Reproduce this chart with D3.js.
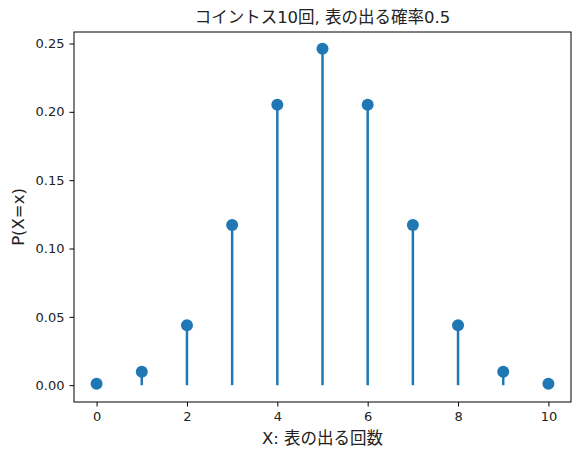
<!DOCTYPE html>
<html>
<head>
<meta charset="utf-8">
<script src="https://cdn.jsdelivr.net/npm/d3@7"></script>
<style>
  body { margin: 0; background: #fff; }
  text { font-family: "DejaVu Sans", "Noto Sans CJK JP", sans-serif; }
</style>
</head>
<body>
<script>
// P(X=k) for 10 coin tosses, p = 0.5
const ks = [0, 1, 2, 3, 4, 5, 6, 7, 8, 9, 10];
const probs = [0.00098, 0.0098, 0.0439, 0.1172, 0.2051, 0.2461, 0.2051, 0.1172, 0.0439, 0.0098, 0.00098];
const xTicks = [0, 2, 4, 6, 8, 10];
const yTicks = [0, 0.05, 0.10, 0.15, 0.20, 0.25];

const W = 579, H = 459;
const margin = { top: 32, left: 74, bottom: 57, right: 8 };
const width = W - margin.left - margin.right,
      height = H - margin.top - margin.bottom;
const col = "#1f77b4";

const svg = d3.select("body").append("svg")
    .attr("width", W).attr("height", H);

const x = d3.scaleLinear().domain([-0.5, 10.5]).range([0, width]);
const ymax = d3.max(probs), pad = ymax * 0.05;
const y = d3.scaleLinear().domain([-pad, ymax + pad]).range([height, 0]);

const g = svg.append("g").attr("transform", `translate(${margin.left},${margin.top})`);

const data = ks.map((k, i) => ({ k, p: probs[i] }));

g.selectAll(".stem").data(data).join("line")
    .attr("class", "stem")
    .attr("x1", d => x(d.k)).attr("x2", d => x(d.k))
    .attr("y1", y(0)).attr("y2", d => y(d.p))
    .attr("stroke", col).attr("stroke-width", 2.5);

g.selectAll(".dot").data(data).join("circle")
    .attr("class", "dot")
    .attr("cx", d => x(d.k)).attr("cy", d => y(d.p))
    .attr("r", 6).attr("fill", col);

const xAxis = g.append("g").attr("transform", `translate(0,${height})`)
    .call(d3.axisBottom(x).tickValues(xTicks).tickFormat(d3.format("d")).tickSize(4.5).tickPadding(5));
const yAxis = g.append("g")
    .call(d3.axisLeft(y).tickValues(yTicks).tickFormat(d3.format(".2f")).tickSize(4.5).tickPadding(5));
[xAxis, yAxis].forEach(a => {
  a.select(".domain").remove();
  a.selectAll("line").attr("stroke", "#000").attr("stroke-width", 1);
  a.selectAll("text").attr("font-size", 13).attr("fill", "#222");
});

g.append("rect").attr("width", width).attr("height", height)
    .attr("fill", "none").attr("stroke", "#000").attr("stroke-width", 1);

svg.append("text").attr("x", margin.left + width / 2).attr("y", 23)
    .attr("text-anchor", "middle").attr("font-size", 16.5).attr("fill", "#222")
    .text("コイントス10回, 表の出る確率0.5");

svg.append("text").attr("x", margin.left + width / 2).attr("y", 444)
    .attr("text-anchor", "middle").attr("font-size", 16.5).attr("fill", "#222")
    .text("X: 表の出る回数");

svg.append("text")
    .attr("transform", `translate(24,${margin.top + height / 2}) rotate(-90)`)
    .attr("text-anchor", "middle").attr("font-size", 16.5).attr("fill", "#222")
    .text("P(X=x)");
</script>
</body>
</html>
